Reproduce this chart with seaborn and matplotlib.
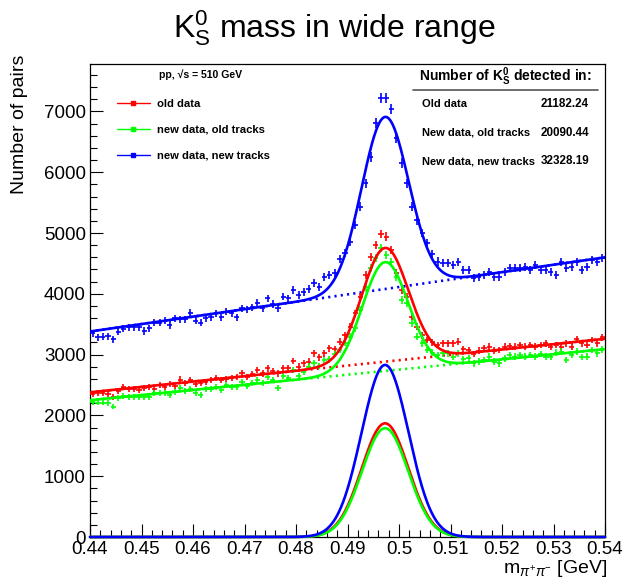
import numpy as np
import matplotlib
matplotlib.use("Agg")
import matplotlib.pyplot as plt
import seaborn as sns
from matplotlib.lines import Line2D
from matplotlib.ticker import MultipleLocator

# ---------------- data ----------------
mass_lo = 0.44
bin_width = 0.001

old_data = [2352, 2363, 2363, 2352, 2308, 2396, 2472, 2429, 2429, 2418,
            2445, 2461, 2429, 2500, 2472, 2516, 2483, 2590, 2527, 2582,
            2516, 2538, 2555, 2582, 2609, 2582, 2593, 2609, 2637, 2691,
            2637, 2680, 2746, 2691, 2774, 2735, 2691, 2774, 2774, 2895,
            2801, 2856, 2884, 3021, 2955, 3021, 3103, 3087, 3213, 3320,
            3459, 3679, 3953, 4309, 4611, 4803, 4984, 4940, 4720, 4337,
            4062, 3953, 3624, 3459, 3322, 3240, 3200, 3158, 3185, 3185,
            3185, 3213, 3087, 3076, 3010, 3065, 3103, 3130, 3065, 3076,
            3130, 3141, 3130, 3158, 3130, 3158, 3130, 3158, 3185, 3130,
            3158, 3130, 3185, 3130, 3251, 3185, 3158, 3240, 3185, 3284]

new_data_old_tracks = [2226, 2210, 2210, 2199, 2144, 2281, 2320, 2308, 2308, 2298,
                       2308, 2298, 2363, 2363, 2363, 2336, 2390, 2445, 2407, 2429,
                       2363, 2336, 2429, 2429, 2461, 2418, 2500, 2472, 2461, 2555,
                       2483, 2527, 2582, 2527, 2637, 2582, 2445, 2648, 2609, 2746,
                       2648, 2719, 2801, 2856, 2812, 2911, 2922, 3010, 3076, 3196,
                       3290, 3432, 3734, 4117, 4419, 4583, 4754, 4639, 4529, 4282,
                       3898, 3843, 3514, 3295, 3185, 3076, 3030, 2994, 3021, 3021,
                       2966, 3021, 2922, 2939, 2856, 2884, 2911, 2966, 2884, 2856,
                       2939, 2994, 2966, 2994, 2966, 2994, 2966, 3010, 2966, 2966,
                       3030, 3048, 2911, 2994, 3048, 2960, 2966, 3076, 3021, 3087]

new_data_new_tracks = [3350, 3285, 3295, 3305, 3250, 3378, 3427, 3448, 3448, 3448,
                       3388, 3432, 3525, 3525, 3558, 3487, 3596, 3580, 3580, 3690,
                       3558, 3525, 3596, 3613, 3679, 3613, 3706, 3679, 3613, 3761,
                       3745, 3777, 3854, 3761, 3926, 3832, 3761, 3953, 3926, 4062,
                       3980, 4035, 4073, 4183, 4117, 4271, 4309, 4337, 4567, 4670,
                       4860, 5130, 5430, 5820, 6255, 6815, 7220, 7220, 7040, 6560,
                       6150, 5820, 5430, 5210, 5000, 4835, 4650, 4530, 4512, 4501,
                       4474, 4529, 4391, 4391, 4255, 4282, 4309, 4364, 4282, 4271,
                       4364, 4419, 4419, 4419, 4446, 4391, 4474, 4391, 4391, 4364,
                       4309, 4529, 4419, 4446, 4529, 4391, 4446, 4556, 4529, 4583]

series_names = ["old data", "new data, old tracks", "new data, new tracks"]
series_values = [old_data, new_data_old_tracks, new_data_new_tracks]
series_colors = ["#ff0000", "#00ff00", "#0000ff"]

# fit: gaussian signal + linear background
fit_amp = [1870, 1790, 2830]
fit_mean = [0.4973, 0.4973, 0.4973]
fit_sigma = [0.00452, 0.00448, 0.00457]
bg_at_lo = [2380, 2250, 3380]
bg_at_hi = [3260, 3090, 4600]

yield_labels = ["Old data", "New data, old tracks", "New data, new tracks"]
yield_values = ["21182.24", "20090.44", "32328.19"]

x_ticks = [0.44, 0.45, 0.46, 0.47, 0.48, 0.49, 0.50, 0.51, 0.52, 0.53, 0.54]
x_tick_labels = ["0.44", "0.45", "0.46", "0.47", "0.48", "0.49", "0.5",
                 "0.51", "0.52", "0.53", "0.54"]
y_ticks = [0, 1000, 2000, 3000, 4000, 5000, 6000, 7000]
y_tick_labels = ["0", "1000", "2000", "3000", "4000", "5000", "6000", "7000"]

# ---------------- style ----------------
sns.set_theme(style="ticks")
plt.rcParams["font.family"] = ["Liberation Sans", "DejaVu Sans"]
plt.rcParams["mathtext.fontset"] = "custom"
plt.rcParams["mathtext.rm"] = "Liberation Sans"
plt.rcParams["mathtext.it"] = "Liberation Sans:italic"
plt.rcParams["mathtext.bf"] = "Liberation Sans:bold"
for key in ["text.color", "axes.labelcolor", "xtick.color", "ytick.color",
            "axes.edgecolor"]:
    plt.rcParams[key] = "black"

W, H = 627, 587
fig = plt.figure(figsize=(W / 100, H / 100), dpi=100)
ax = fig.add_axes([90 / W, (H - 537) / H, 515 / W, 473 / H])

x_hi = mass_lo + bin_width * len(old_data)
centers = mass_lo + bin_width * (np.arange(len(old_data)) + 0.5)
xs = np.linspace(mass_lo, x_hi, 800)

for vals, col in zip(series_values, series_colors):
    v = np.asarray(vals, dtype=float)
    ax.errorbar(centers, v, xerr=bin_width / 2, yerr=np.sqrt(v), fmt="none",
                ecolor=col, elinewidth=1.2, capsize=0, zorder=3)

for amp, mu, sg, b0, b1, col in zip(fit_amp, fit_mean, fit_sigma,
                                     bg_at_lo, bg_at_hi, series_colors):
    bg = b0 + (b1 - b0) * (xs - mass_lo) / (x_hi - mass_lo)
    sig = amp * np.exp(-0.5 * ((xs - mu) / sg) ** 2)
    sns.lineplot(x=xs, y=bg, ax=ax, color=col, lw=1.9,
                 linestyle=(0, (0.8, 1.6)), zorder=2)
    sns.lineplot(x=xs, y=sig + bg, ax=ax, color=col, lw=1.9, zorder=4)
    sns.lineplot(x=xs, y=sig, ax=ax, color=col, lw=1.9, zorder=4, clip_on=False)

ax.set_xlim(mass_lo, x_hi)
ax.set_ylim(0, 7780)
ax.set_xticks(x_ticks)
ax.set_xticklabels(x_tick_labels)
ax.set_yticks(y_ticks)
ax.set_yticklabels(y_tick_labels)
ax.xaxis.set_minor_locator(MultipleLocator(0.002))
ax.yaxis.set_minor_locator(MultipleLocator(200))
ax.tick_params(which="major", direction="in", length=9.5, width=0.8,
               color="black", labelcolor="black", labelsize=13.5, pad=3,
               top=False, right=False)
ax.tick_params(which="minor", direction="in", length=5, width=0.8,
               color="black", top=False, right=False)
ax.set_xlabel("")
ax.set_ylabel("")
for s in ax.spines.values():
    s.set_color("black")
    s.set_linewidth(0.9)

# legend
handles = [Line2D([], [], color=c, lw=1.0, marker="s", markersize=2.2)
           for c in series_colors]
leg = ax.legend(handles, series_names, loc="upper left",
                bbox_to_anchor=(0.0524, 0.927), frameon=False, borderaxespad=0,
                borderpad=0, handlelength=2.9, handletextpad=0.63,
                labelspacing=1.42, prop={"weight": "bold", "size": 8.1})
for t in leg.get_texts():
    t.set_color("black")

def fx(px):
    return px / W

def fy(py):
    return 1 - py / H

fig.text(fx(159), fy(75), "pp, √s = 510 GeV", fontsize=7.6,
         weight="bold", ha="left", va="center", color="black")

fig.text(fx(419), fy(77), r"Number of $\mathbf{K^0_S}$ detected in:",
         fontsize=10, weight="bold", ha="left", va="center", color="black")
fig.add_artist(Line2D([fx(413), fx(598)], [fy(89.5), fy(89.5)],
                      color="#555555", lw=1.2))
for lab, val, py in zip(yield_labels, yield_values, [104, 132.5, 161]):
    fig.text(fx(422), fy(py), lab, fontsize=8.0, weight="bold",
             ha="left", va="center", color="black")
    fig.text(fx(589), fy(py), val, fontsize=8.4, weight="bold",
             ha="right", va="center", color="black")

# titles
fig.text(fx(334), fy(37), r"$\mathrm{K}^{0}_{\mathrm{S}}$ mass in wide range",
         fontsize=23, ha="center", va="baseline", color="black")
fig.text(fx(20), fy(55), "Number of pairs", rotation=90, fontsize=14,
         ha="center", va="top", color="black")
fig.text(fx(607), fy(573), r"m$_{\pi^{+}\pi^{-}}$ [GeV]", fontsize=14,
         ha="right", va="baseline", color="black")

fig.savefig("out.png", dpi=100)
